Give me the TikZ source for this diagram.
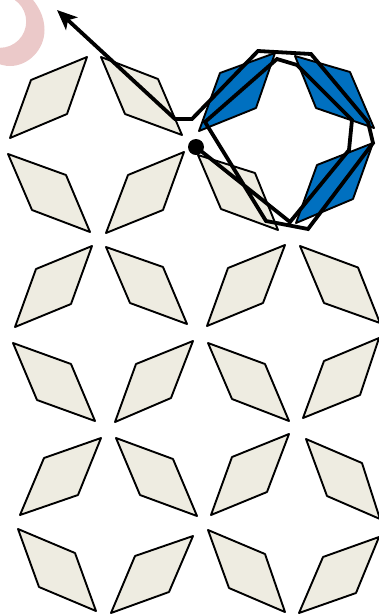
\documentclass[tikz,border=0pt]{standalone}
\usetikzlibrary{arrows.meta}
\definecolor{tilebeige}{HTML}{EEECE1}
\definecolor{tileblue}{HTML}{0070C0}
\definecolor{ringpink}{HTML}{EBC9C9}
\tikzset{
  tile/.style={draw=black,fill=tilebeige,line width=1.9pt,line join=round},
  bluetile/.style={tile,fill=tileblue},
  route/.style={draw=black,line width=3.8pt,line join=miter,-{Stealth[length=20pt,width=17pt,inset=5pt]}},
}
\begin{document}
\begin{tikzpicture}[x=1pt,y=-1pt]
\useasboundingbox (0,0) rectangle (379,614);
\begin{scope}
\clip (0,0) rectangle (379,614);
\fill[ringpink,even odd rule] (28,-6) .. controls (38,5) and (44.5,16) .. (44.5,30) .. controls (44.5,50) and (28,66) .. (10,66) .. controls (5,66) and (0,65) .. (-10,60) -- (-10,-10) -- cycle
  (0,21.6) circle[radius=26.2];
% row 1
\draw[tile] (87,57) -- (31,80) -- (10,138) -- (67,114) -- cycle;
\draw[tile] (101,57) -- (158,79) -- (182,135) -- (125,114) -- cycle;
\draw[tile] (8,154) -- (66,175) -- (90,232) -- (32,210) -- cycle;
\draw[tile] (184,152) -- (128,175) -- (106,233) -- (163,210) -- cycle;
\draw[bluetile] (275,53) -- (220,73) -- (199,131) -- (256,108) -- cycle;
\draw[bluetile] (295,56) -- (350,72) -- (374,128) -- (316,108) -- cycle;
\draw[tile] (198,155) -- (255,173) -- (278,230) -- (221,209) -- cycle;
\draw[bluetile] (373,143) -- (317,165) -- (296,223) -- (353,199) -- cycle;
% row 2
\draw[tile] (92,246) -- (36,269) -- (15,327) -- (71,304) -- cycle;
\draw[tile] (106,247) -- (163,267) -- (187,324) -- (130,303) -- cycle;
\draw[tile] (13,343) -- (71,364) -- (95,421) -- (37,400) -- cycle;
\draw[tile] (193,341) -- (136,364) -- (115,422) -- (171,398) -- cycle;
\draw[tile] (285,245) -- (228,268) -- (207,326) -- (263,303) -- cycle;
\draw[tile] (300,246) -- (358,267.5) -- (380,323) -- (324,303) -- cycle;
\draw[tile] (208,343) -- (265,364) -- (289,421) -- (232,399) -- cycle;
\draw[tile] (379,338) -- (324,361) -- (303,418) -- (360,395) -- cycle;
% row 3
\draw[tile] (101,438) -- (44,458) -- (20,515) -- (78,495) -- cycle;
\draw[tile] (116,438) -- (173,459) -- (197,516) -- (140,495) -- cycle;
\draw[tile] (18,529) -- (75,553) -- (96,611) -- (39,587) -- cycle;
\draw[tile] (193,536) -- (135,556) -- (111,613) -- (169,592) -- cycle;
\draw[tile] (289,434) -- (232,457) -- (211,515) -- (267,492) -- cycle;
\draw[tile] (306,439) -- (362,463) -- (380,519) -- (327,496) -- cycle;
\draw[tile] (208,530) -- (265,554) -- (285,612) -- (229,588) -- cycle;
\draw[tile] (379,537) -- (323,557) -- (299,613) -- (356,593) -- cycle;
% route
\coordinate (start) at (196,147);
\coordinate (tip) at (57,10);
\draw[route] (start) -- (290,222) -- (349,150) -- (352,120) -- (297,65) -- (277,59) -- (205,122) -- (266,221) -- (308,229) -- (373,143) -- (368,122) -- (311,54) -- (258,51) -- (192,119) -- (175,119) -- (tip);
\fill[black] (start) circle[radius=8];
\end{scope}
\end{tikzpicture}
\end{document}
